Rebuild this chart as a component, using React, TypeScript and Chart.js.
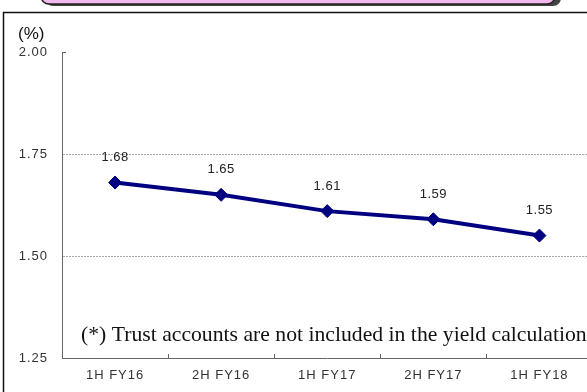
import React, { useEffect, useRef } from "react";
import { Chart, registerables } from "chart.js";

Chart.register(...registerables);

const periods = ["1H FY16", "2H FY16", "1H FY17", "2H FY17", "1H FY18"];
const yields = [1.68, 1.65, 1.61, 1.59, 1.55];
const yTicks = [1.25, 1.5, 1.75, 2.0];
const unitLabel = "(%)";
const footnote = "(*) Trust accounts are not included in the yield calculation";

const NAVY = "#000080";
const SANS = "'Liberation Sans', Arial, sans-serif";

// Frame, banner strip, unit label, footnote, value labels and inner tick marks
const decorations = {
  id: "decorations",
  beforeDraw(chart: any) {
    const ctx = chart.ctx;
    ctx.save();
    ctx.fillStyle = "#ffffff";
    ctx.fillRect(0, 0, chart.width, chart.height);

    // banner strip (only its lower edge falls inside the canvas)
    ctx.fillStyle = "#444";
    ctx.beginPath();
    ctx.roundRect(45, -30, 516, 36, 8);
    ctx.fill();
    ctx.fillStyle = "#f4b8f0";
    ctx.strokeStyle = "#222";
    ctx.lineWidth = 1.5;
    ctx.beginPath();
    ctx.roundRect(41, -30, 514, 34, 8);
    ctx.fill();
    ctx.stroke();

    // outer frame
    ctx.strokeStyle = "#111";
    ctx.lineWidth = 1.5;
    ctx.strokeRect(3.5, 12.5, chart.width + 20, chart.height + 20);

    // unit label
    ctx.fillStyle = "#111";
    ctx.font = `17px ${SANS}`;
    ctx.textAlign = "left";
    ctx.textBaseline = "alphabetic";
    ctx.fillText(unitLabel, 18, 39);
    ctx.restore();
    // axis tick labels are drawn with slightly spread letters
    ctx.letterSpacing = "1px";
  },
  afterDatasetsDraw(chart: any) {
    const ctx = chart.ctx;
    const x = chart.scales.x;
    const y = chart.scales.y;
    const area = chart.chartArea;
    ctx.save();

    // short inward tick at the top of the value axis
    ctx.strokeStyle = "#666";
    ctx.lineWidth = 1;
    ctx.beginPath();
    ctx.moveTo(area.left, Math.round(y.getPixelForValue(2.0)) + 0.5);
    ctx.lineTo(area.left + 4, Math.round(y.getPixelForValue(2.0)) + 0.5);
    ctx.stroke();

    // category boundary ticks pointing up from the category axis
    for (let i = 1; i < periods.length; i++) {
      const px = Math.round((x.getPixelForValue(i - 1) + x.getPixelForValue(i)) / 2) + 0.5;
      ctx.beginPath();
      ctx.moveTo(px, area.bottom);
      ctx.lineTo(px, area.bottom - 4);
      ctx.stroke();
    }

    // value labels
    ctx.letterSpacing = "0.5px";
    ctx.fillStyle = "#222";
    ctx.font = `13px ${SANS}`;
    ctx.textAlign = "center";
    ctx.textBaseline = "middle";
    const meta = chart.getDatasetMeta(0);
    meta.data.forEach((pt: any, i: number) => {
      ctx.fillText(yields[i].toFixed(2), pt.x, pt.y - 25);
    });

    // footnote
    ctx.letterSpacing = "0px";
    ctx.fillStyle = "#111";
    ctx.font = "21.7px 'Liberation Serif', 'Times New Roman', serif";
    ctx.textAlign = "left";
    ctx.textBaseline = "alphabetic";
    ctx.fillText(footnote, 81, 341);
    ctx.restore();
  },
};

export default function App() {
  const ref = useRef<HTMLCanvasElement | null>(null);

  useEffect(() => {
    if (!ref.current) return;
    const chart = new Chart(ref.current, {
      type: "line",
      data: {
        labels: periods,
        datasets: [
          {
            data: yields,
            borderColor: NAVY,
            backgroundColor: NAVY,
            borderWidth: 4,
            pointStyle: "rectRot",
            pointRadius: 6.5,
            pointBackgroundColor: NAVY,
            pointBorderColor: NAVY,
            pointBorderWidth: 1,
            tension: 0,
          },
        ],
      },
      options: {
        animation: false,
        responsive: false,
        maintainAspectRatio: false,
        layout: { padding: { top: 52, right: 5, bottom: 0, left: 0 } },
        plugins: {
          legend: { display: false },
          tooltip: { enabled: false },
        },
        scales: {
          x: {
            type: "category",
            offset: true,
            grid: { display: false, drawTicks: false },
            border: { display: true, color: "#666", width: 1 },
            ticks: {
              padding: 10,
              color: "#333",
              font: { family: SANS, size: 13 },
              maxRotation: 0,
            },
            afterFit: (s: any) => {
              s.height = 34;
            },
          },
          y: {
            min: 1.25,
            max: 2.0,
            afterBuildTicks: (s: any) => {
              s.ticks = yTicks.map((v) => ({ value: v }));
            },
            grid: {
              drawTicks: false,
              color: (c: any) =>
                c.tick && (c.tick.value === 1.5 || c.tick.value === 1.75) ? "#a8a8a8" : "rgba(0,0,0,0)",
              lineWidth: 1,
            },
            // dash here applies to the grid lines
            border: { display: true, color: "#666", width: 1, dash: [2, 1] },
            ticks: {
              padding: 14,
              color: "#333",
              font: { family: SANS, size: 13 },
              callback: (v: any) => Number(v).toFixed(2),
            },
            afterFit: (s: any) => {
              s.width = 62;
            },
          },
        },
      },
      plugins: [decorations],
    });
    return () => chart.destroy();
  }, []);

  return (
    <div
      style={{
        position: "absolute",
        left: 0,
        top: 0,
        width: 587,
        height: 392,
        overflow: "hidden",
        background: "#fff",
      }}
    >
      <canvas ref={ref} width={600} height={392} style={{ display: "block" }} />
    </div>
  );
}
